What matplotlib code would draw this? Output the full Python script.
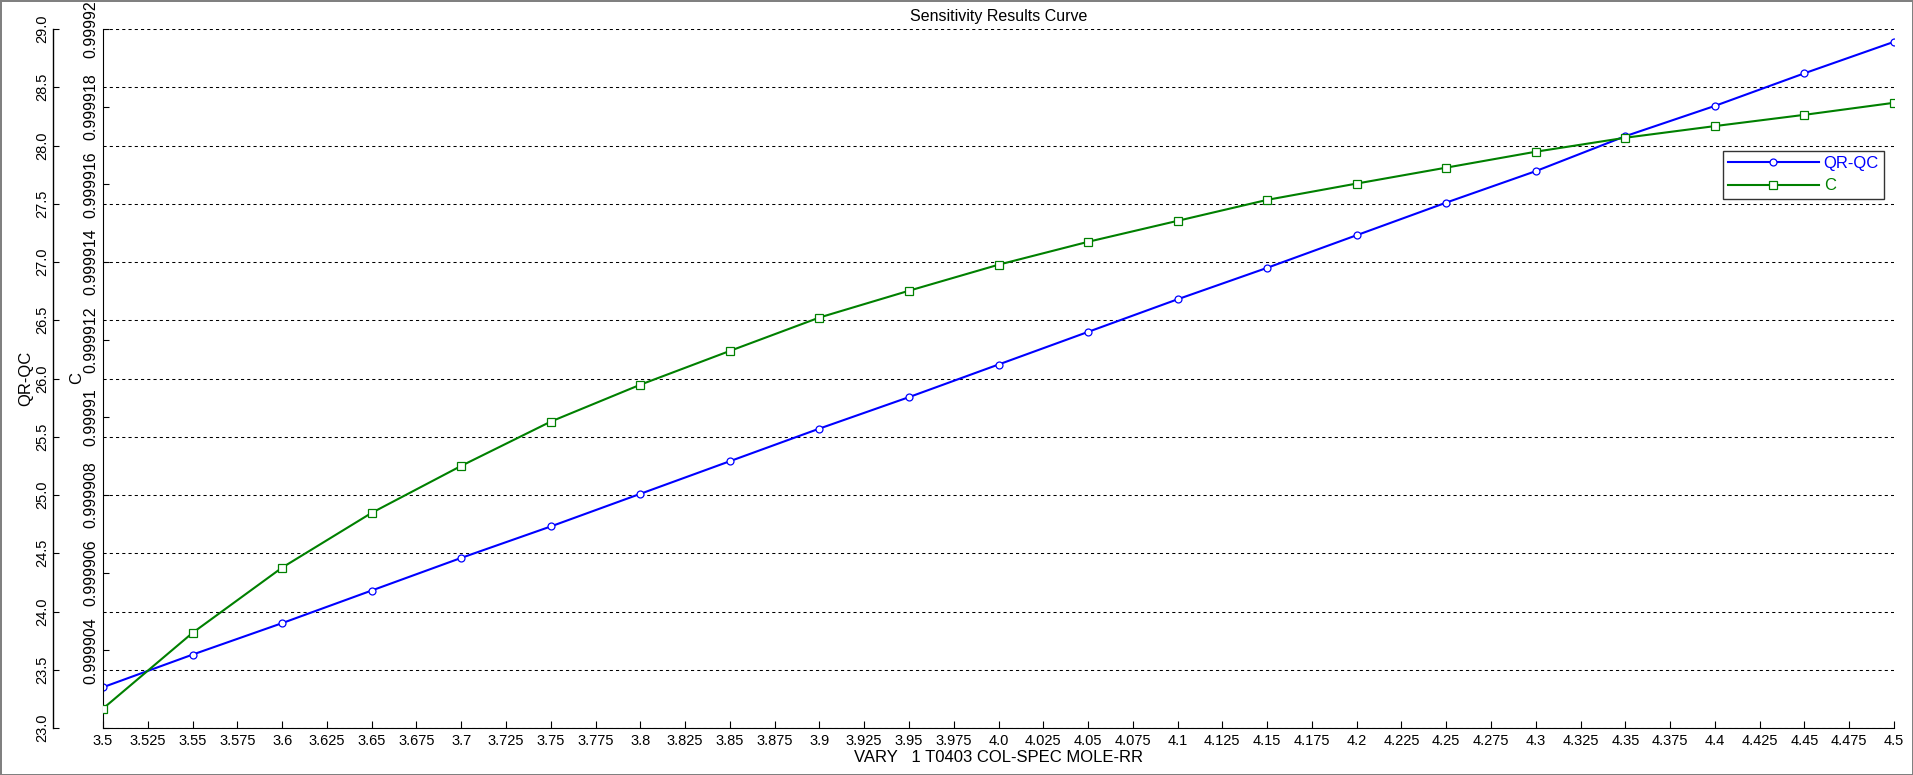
import numpy as np
import matplotlib
matplotlib.use("Agg")
import matplotlib.pyplot as plt
from matplotlib import ticker

plt.rcParams['font.family'] = ['Liberation Sans', 'DejaVu Sans']

# sensitivity variable
vary = [3.5, 3.55, 3.6, 3.65, 3.7, 3.75, 3.8, 3.85, 3.9, 3.95, 4.0,
        4.05, 4.1, 4.15, 4.2, 4.25, 4.3, 4.35, 4.4, 4.45, 4.5]

# QR-QC results
qrqc = [23.35, 23.63, 23.90, 24.18, 24.46, 24.73, 25.01, 25.29, 25.57, 25.84, 26.12,
        26.40, 26.68, 26.95, 27.23, 27.51, 27.78, 28.08, 28.34, 28.62, 28.89]

# C results
c_vals = [0.9999025, 0.99990445, 0.99990613, 0.99990754, 0.99990875, 0.99990989,
          0.99991084, 0.99991171, 0.99991257, 0.99991326, 0.99991393, 0.99991452,
          0.99991506, 0.9999156, 0.99991602, 0.99991643, 0.99991684, 0.9999172,
          0.9999175, 0.99991779, 0.9999181]

x_ticks = [3.5 + 0.025 * i for i in range(41)]
qr_ticks = [23.0 + 0.5 * i for i in range(13)]
c_ticks = [0.999902 + 0.000002 * i for i in range(10)]
c_labels = ['', '0.999904', '0.999906', '0.999908', '0.99991', '0.999912',
            '0.999914', '0.999916', '0.999918', '0.99992']

blue = '#0000ff'
green = '#008000'


def xfmt(v):
    s = f"{round(v, 3):g}"
    if '.' not in s:
        s += '.0'
    return s


fig = plt.figure(figsize=(19.13, 7.75), dpi=100)
fig.patch.set_edgecolor('#808080')
fig.patch.set_linewidth(2)

W = 1791.0
bottom = 1 - 728/775
height = (728 - 29)/775
ax = fig.add_axes([103/1913, bottom, W/1913, height])
ax2 = ax.twinx()

# QR-QC curve and grid on the main axes; its scale is drawn on a separate axis below
ax.plot(vary, qrqc, color=blue, lw=1.5, marker='o', ms=5, mfc='white',
        mec=blue, mew=0.9, label='QR-QC', zorder=3)
ax.set_xlim(3.5, 4.5)
ax.set_ylim(23.0, 29.0)
ax.set_yticks(qr_ticks)
ax.tick_params(axis='y', left=False, labelleft=False, right=False, labelright=False)
for s in ['top', 'right', 'left']:
    ax.spines[s].set_visible(False)
ax.set_xticks(x_ticks)
ax.set_xticklabels([xfmt(v) for v in x_ticks], fontsize=10.5)
ax.tick_params(axis='x', direction='in', length=5, pad=4)
ax.yaxis.grid(True, color='black', lw=0.75, ls=(0, (3, 3)))
ax.set_axisbelow(True)
ax.set_xlabel('VARY   1 T0403 COL-SPEC MOLE-RR', fontsize=12, labelpad=2)
ax.set_title('Sensitivity Results Curve', fontsize=11.5, pad=6)

# outer QR-QC scale
axq = fig.add_axes([53/1913, bottom, 1/1913, height])
axq.patch.set_visible(False)
for s in ['top', 'right', 'bottom']:
    axq.spines[s].set_visible(False)
axq.spines['left'].set_color('black')
axq.spines['left'].set_linewidth(1.0)
axq.set_xticks([])
axq.set_ylim(23.0, 29.0)
axq.set_yticks(qr_ticks)
axq.set_yticklabels([f"{v:.1f}" for v in qr_ticks], rotation=90, va='center', fontsize=10.5)
axq.tick_params(axis='y', direction='in', length=4, pad=3)
axq.set_ylabel('QR-QC', fontsize=12)
axq.yaxis.set_label_coords(-70/W, 0.5, transform=ax.transAxes)

# C on the inner left axis
ax2.yaxis.tick_left()
ax2.spines['left'].set_visible(True)
for s in ['top', 'right', 'bottom']:
    ax2.spines[s].set_visible(False)
ax2.plot(vary, c_vals, color=green, lw=1.5, marker='s', ms=5.5, mfc='white',
         mec=green, mew=0.9, label='C', zorder=3)
ax2.set_ylim(0.999902, 0.99992)
ax2.set_yticks(c_ticks)
ax2.set_yticklabels(c_labels, rotation=90, va='center', fontsize=11.5)
ax2.tick_params(axis='y', direction='in', length=4, pad=3)
ax2.set_ylabel('C', fontsize=12)
ax2.yaxis.set_label_position('left')
ax2.yaxis.set_label_coords(-19/W, 0.5)

h1, l1 = ax.get_legend_handles_labels()
h2, l2 = ax2.get_legend_handles_labels()
leg = ax2.legend(h1 + h2, l1 + l2, loc='upper right', bbox_to_anchor=(1884/1913, 1 - 151/775),
                 bbox_transform=fig.transFigure, fontsize=12, frameon=True, fancybox=False,
                 borderpad=0.3, handlelength=5.45, handletextpad=0.3, labelspacing=0.45,
                 borderaxespad=0)
leg.get_frame().set_edgecolor('black')
leg.get_frame().set_linewidth(1)
for t, col in zip(leg.get_texts(), [blue, green]):
    t.set_color(col)

fig.savefig('out.png', dpi=100, edgecolor=fig.get_edgecolor())
